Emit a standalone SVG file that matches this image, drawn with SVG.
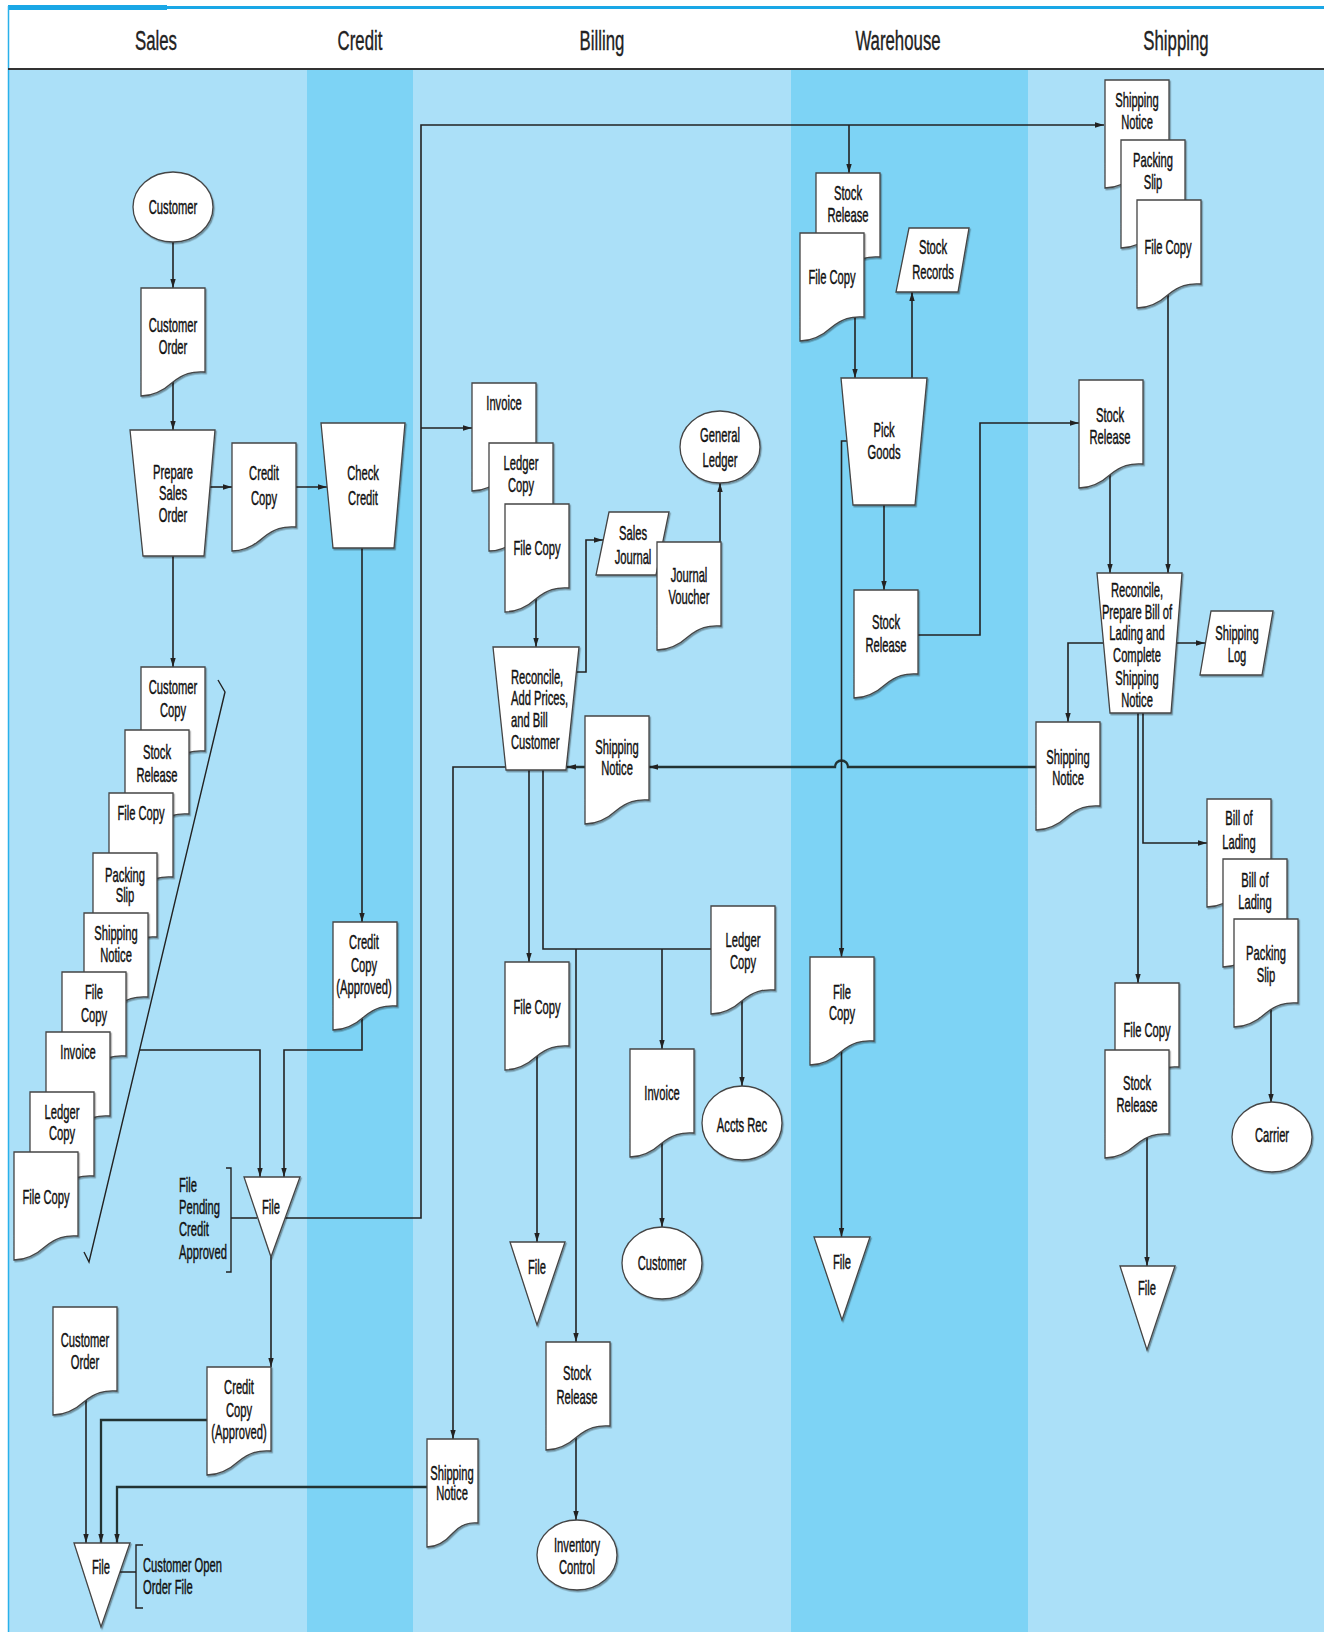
<svg xmlns="http://www.w3.org/2000/svg" width="1324" height="1632" viewBox="0 0 1324 1632">
<defs>
<style>
.s{fill:#fff;stroke:#444;stroke-width:1.3;filter:url(#sh)}
.t{font-family:"Liberation Sans",Arial,sans-serif;font-size:20px;text-anchor:middle;fill:#111;stroke:#111;stroke-width:0.45}
.l{text-anchor:start}
.h{font-family:"Liberation Sans",Arial,sans-serif;font-size:28px;text-anchor:middle;fill:#222;stroke:#222;stroke-width:0.4}
.c{fill:none;stroke:#222;stroke-width:1.6}
.ca{fill:none;stroke:#222;stroke-width:1.6;marker-end:url(#a)}
.cw{fill:none;stroke:#233;stroke-width:2.3;marker-end:url(#a)}
.b{fill:none;stroke:#222;stroke-width:1.4}
</style>
<filter id="sh" x="-10%" y="-10%" width="130%" height="130%"><feDropShadow dx="1.2" dy="1.5" stdDeviation="0.7" flood-color="#000" flood-opacity="0.35"/></filter>
<marker id="a" viewBox="0 0 10 6" refX="10" refY="3" markerWidth="9" markerHeight="6" markerUnits="userSpaceOnUse" orient="auto"><path d="M0,0L10,3L0,6z" fill="#222"/></marker>
</defs>
<rect width="1324" height="1632" fill="#fff"/>
<g id="lanes">
<rect x="8" y="70" width="299" height="1562" fill="#abe0f8"/>
<rect x="307" y="70" width="106" height="1562" fill="#7dd3f5"/>
<rect x="413" y="70" width="378" height="1562" fill="#abe0f8"/>
<rect x="791" y="70" width="237" height="1562" fill="#7dd3f5"/>
<rect x="1028" y="70" width="296" height="1562" fill="#abe0f8"/>
<rect x="8" y="6" width="1316" height="3" fill="#1aa7e6"/>
<rect x="8" y="5" width="159" height="5" fill="#1aa7e6"/>
<line x1="8.5" y1="6" x2="8.5" y2="1632" stroke="#2ab1ea" stroke-width="1.5"/>
<line x1="8" y1="69" x2="1324" y2="69" stroke="#333" stroke-width="2"/>
<text class="h" transform="translate(156 0) scale(.6 1)"><tspan x="0" y="50">Sales</tspan></text>
<text class="h" transform="translate(360 0) scale(.6 1)"><tspan x="0" y="50">Credit</tspan></text>
<text class="h" transform="translate(602 0) scale(.6 1)"><tspan x="0" y="50">Billing</tspan></text>
<text class="h" transform="translate(898 0) scale(.6 1)"><tspan x="0" y="50">Warehouse</tspan></text>
<text class="h" transform="translate(1176 0) scale(.6 1)"><tspan x="0" y="50">Shipping</tspan></text>
</g>
<g id="connectors">
<path class="ca" d="M173,230V288"/>
<path class="ca" d="M173,380V430"/>
<path class="ca" d="M205,487H232"/>
<path class="ca" d="M290,487H327"/>
<path class="ca" d="M173,540V667"/>
<path class="ca" d="M362,530V922"/>
<path class="ca" d="M362,1000V1050H284V1177"/>
<path class="ca" d="M139,1050H260V1177"/>
<path class="ca" d="M271,1218H421V125H1104"/>
<path class="ca" d="M849,125V173"/>
<path class="ca" d="M421,428H472"/>
<path class="ca" d="M536,590V647"/>
<path class="ca" d="M570,672H586V540H603"/>
<path class="ca" d="M720,560V483"/>
<path class="cw" d="M1050,767H848A6.5,6.5 0 0 0 835,767H649"/>
<path class="cw" d="M600,767H567"/>
<path class="ca" d="M530,767H453V1439"/>
<path class="ca" d="M529,760V962"/>
<path class="c" d="M543,760V949H720"/>
<path class="ca" d="M576,949V1342"/>
<path class="ca" d="M662,949V1049"/>
<path class="ca" d="M742,990V1086"/>
<path class="ca" d="M662,1140V1227"/>
<path class="ca" d="M537,1050V1242"/>
<path class="ca" d="M576,1430V1520"/>
<path class="ca" d="M271,1240V1367"/>
<path class="cw" d="M230,1420H101V1543"/>
<path class="ca" d="M86,1390V1543"/>
<path class="cw" d="M440,1487H117V1543"/>
<path class="ca" d="M855,300V378"/>
<path class="ca" d="M912,400V292"/>
<path class="ca" d="M884,490V590"/>
<path class="ca" d="M900,635H980V423H1079"/>
<path class="ca" d="M860,441H841.5V957"/>
<path class="ca" d="M841.5,1040V1237"/>
<path class="ca" d="M1168,280V573"/>
<path class="ca" d="M1110,470V573"/>
<path class="ca" d="M1170,643H1205"/>
<path class="ca" d="M1110,643H1068V722"/>
<path class="ca" d="M1138,700V983"/>
<path class="ca" d="M1143,700V843H1207"/>
<path class="ca" d="M1271,1000V1103"/>
<path class="ca" d="M1147,1130V1266"/>
<path class="b" d="M218,680L225,692L89,1262L84,1252"/>
</g>
<!-- Sales -->
<g id="customer"><ellipse class="s" cx="173" cy="207" rx="40" ry="35"/><text class="t" transform="translate(173 0) scale(.56 1)"><tspan x="0" y="214">Customer</tspan></text></g>
<g id="customer-order"><path class="s" d="M141,288h64v84c-13,-1-22,2-32,10c-10,9-20,14-32,14z"/><text class="t" transform="translate(173 0) scale(.56 1)"><tspan x="0" y="332">Customer</tspan><tspan x="0" y="354">Order</tspan></text></g>
<g id="prepare-sales-order"><polygon class="s" points="130,430 215,430 204,556 143,556"/><text class="t" transform="translate(173 0) scale(.56 1)"><tspan x="0" y="479">Prepare</tspan><tspan x="0" y="500">Sales</tspan><tspan x="0" y="522">Order</tspan></text></g>
<g id="credit-copy"><path class="s" d="M232,443h64v84c-13,-1-22,2-32,10c-10,9-20,14-32,14z"/><text class="t" transform="translate(264 0) scale(.56 1)"><tspan x="0" y="480">Credit</tspan><tspan x="0" y="505">Copy</tspan></text></g>
<g id="s-customer-copy"><path class="s" d="M141,667h64v84c-13,-1-22,2-32,10c-10,9-20,14-32,14z"/><text class="t" transform="translate(173 0) scale(.56 1)"><tspan x="0" y="694">Customer</tspan><tspan x="0" y="717">Copy</tspan></text></g>
<g id="s-stock-release"><path class="s" d="M125,730h64v84c-13,-1-22,2-32,10c-10,9-20,14-32,14z"/><text class="t" transform="translate(157 0) scale(.56 1)"><tspan x="0" y="759">Stock</tspan><tspan x="0" y="782">Release</tspan></text></g>
<g id="s-file-copy-1"><path class="s" d="M109,793h64v84c-13,-1-22,2-32,10c-10,9-20,14-32,14z"/><text class="t" transform="translate(141 0) scale(.56 1)"><tspan x="0" y="820">File Copy</tspan></text></g>
<g id="s-packing-slip"><path class="s" d="M93,853h64v84c-13,-1-22,2-32,10c-10,9-20,14-32,14z"/><text class="t" transform="translate(125 0) scale(.56 1)"><tspan x="0" y="882">Packing</tspan><tspan x="0" y="902">Slip</tspan></text></g>
<g id="s-shipping-notice"><path class="s" d="M84,913h64v84c-13,-1-22,2-32,10c-10,9-20,14-32,14z"/><text class="t" transform="translate(116 0) scale(.56 1)"><tspan x="0" y="940">Shipping</tspan><tspan x="0" y="962">Notice</tspan></text></g>
<g id="s-file-copy-2"><path class="s" d="M62,972h64v84c-13,-1-22,2-32,10c-10,9-20,14-32,14z"/><text class="t" transform="translate(94 0) scale(.56 1)"><tspan x="0" y="999">File</tspan><tspan x="0" y="1022">Copy</tspan></text></g>
<g id="s-invoice"><path class="s" d="M46,1032h64v84c-13,-1-22,2-32,10c-10,9-20,14-32,14z"/><text class="t" transform="translate(78 0) scale(.56 1)"><tspan x="0" y="1059">Invoice</tspan></text></g>
<g id="s-ledger-copy"><path class="s" d="M30,1092h64v84c-13,-1-22,2-32,10c-10,9-20,14-32,14z"/><text class="t" transform="translate(62 0) scale(.56 1)"><tspan x="0" y="1119">Ledger</tspan><tspan x="0" y="1140">Copy</tspan></text></g>
<g id="s-file-copy-3"><path class="s" d="M14,1152h64v84c-13,-1-22,2-32,10c-10,9-20,14-32,14z"/><text class="t" transform="translate(46 0) scale(.56 1)"><tspan x="0" y="1204">File Copy</tspan></text></g>
<g id="file-pending"><polygon class="s" points="244,1177 300,1177 271,1257"/><text class="t" transform="translate(271 0) scale(.56 1)"><tspan x="0" y="1214">File</tspan></text></g>
<g id="label-pending"><path class="b" d="M226,1168H231V1272H226M231,1218H257"/><text class="t l" transform="translate(179 0) scale(.56 1)"><tspan x="0" y="1192">File</tspan><tspan x="0" y="1214">Pending</tspan><tspan x="0" y="1236">Credit</tspan><tspan x="0" y="1259">Approved</tspan></text></g>
<g id="customer-order-2"><path class="s" d="M53,1307h64v84c-13,-1-22,2-32,10c-10,9-20,14-32,14z"/><text class="t" transform="translate(85 0) scale(.56 1)"><tspan x="0" y="1347">Customer</tspan><tspan x="0" y="1369">Order</tspan></text></g>
<g id="credit-copy-approved-2"><path class="s" d="M207,1367h64v84c-13,-1-22,2-32,10c-10,9-20,14-32,14z"/><text class="t" transform="translate(239 0) scale(.56 1)"><tspan x="0" y="1394">Credit</tspan><tspan x="0" y="1417">Copy</tspan><tspan x="0" y="1439">(Approved)</tspan></text></g>
<g id="file-open-order"><polygon class="s" points="74,1543 130,1543 101,1627"/><text class="t" transform="translate(101 0) scale(.56 1)"><tspan x="0" y="1574">File</tspan></text></g>
<g id="label-open-order"><path class="b" d="M143,1545H136V1608H143M120,1572H136"/><text class="t l" transform="translate(143 0) scale(.56 1)"><tspan x="0" y="1572">Customer Open</tspan><tspan x="0" y="1594">Order File</tspan></text></g>
<!-- Credit -->
<g id="check-credit"><polygon class="s" points="321,423 405,423 394,548 333,548"/><text class="t" transform="translate(363 0) scale(.56 1)"><tspan x="0" y="480">Check</tspan><tspan x="0" y="505">Credit</tspan></text></g>
<g id="credit-copy-approved"><path class="s" d="M333,922h64v84c-13,-1-22,2-32,10c-10,9-20,14-32,14z"/><text class="t" transform="translate(364 0) scale(.56 1)"><tspan x="0" y="949">Credit</tspan><tspan x="0" y="972">Copy</tspan><tspan x="0" y="994">(Approved)</tspan></text></g>
<!-- Billing -->
<g id="b-invoice"><path class="s" d="M472,383h64v84c-13,-1-22,2-32,10c-10,9-20,14-32,14z"/><text class="t" transform="translate(504 0) scale(.56 1)"><tspan x="0" y="410">Invoice</tspan></text></g>
<g id="b-ledger-copy"><path class="s" d="M489,443h64v84c-13,-1-22,2-32,10c-10,9-20,14-32,14z"/><text class="t" transform="translate(521 0) scale(.56 1)"><tspan x="0" y="470">Ledger</tspan><tspan x="0" y="492">Copy</tspan></text></g>
<g id="b-file-copy"><path class="s" d="M505,504h64v84c-13,-1-22,2-32,10c-10,9-20,14-32,14z"/><text class="t" transform="translate(537 0) scale(.56 1)"><tspan x="0" y="555">File Copy</tspan></text></g>
<g id="general-ledger"><ellipse class="s" cx="720" cy="447" rx="40" ry="36"/><text class="t" transform="translate(720 0) scale(.56 1)"><tspan x="0" y="442">General</tspan><tspan x="0" y="467">Ledger</tspan></text></g>
<g id="sales-journal"><polygon class="s" points="609,512 669,512 656,575 596,575"/><text class="t" transform="translate(633 0) scale(.56 1)"><tspan x="0" y="540">Sales</tspan><tspan x="0" y="564">Journal</tspan></text></g>
<g id="journal-voucher"><path class="s" d="M657,542h64v84c-13,-1-22,2-32,10c-10,9-20,14-32,14z"/><text class="t" transform="translate(689 0) scale(.56 1)"><tspan x="0" y="582">Journal</tspan><tspan x="0" y="604">Voucher</tspan></text></g>
<g id="reconcile-bill"><polygon class="s" points="493,647 579,647 566,770 506,770"/><text class="t l" transform="translate(511 0) scale(.56 1)"><tspan x="0" y="684">Reconcile,</tspan><tspan x="0" y="705">Add Prices,</tspan><tspan x="0" y="727">and Bill</tspan><tspan x="0" y="749">Customer</tspan></text></g>
<g id="b-shipping-notice"><path class="s" d="M585,716h64v84c-13,-1-22,2-32,10c-10,9-20,14-32,14z"/><text class="t" transform="translate(617 0) scale(.56 1)"><tspan x="0" y="754">Shipping</tspan><tspan x="0" y="775">Notice</tspan></text></g>
<g id="b-file-copy-2"><path class="s" d="M505,962h64v84c-13,-1-22,2-32,10c-10,9-20,14-32,14z"/><text class="t" transform="translate(537 0) scale(.56 1)"><tspan x="0" y="1014">File Copy</tspan></text></g>
<g id="b-ledger-copy-2"><path class="s" d="M711,906h64v84c-13,-1-22,2-32,10c-10,9-20,14-32,14z"/><text class="t" transform="translate(743 0) scale(.56 1)"><tspan x="0" y="947">Ledger</tspan><tspan x="0" y="969">Copy</tspan></text></g>
<g id="b-invoice-2"><path class="s" d="M630,1049h64v84c-13,-1-22,2-32,10c-10,9-20,14-32,14z"/><text class="t" transform="translate(662 0) scale(.56 1)"><tspan x="0" y="1100">Invoice</tspan></text></g>
<g id="accts-rec"><ellipse class="s" cx="742" cy="1123" rx="40" ry="37"/><text class="t" transform="translate(742 0) scale(.56 1)"><tspan x="0" y="1132">Accts Rec</tspan></text></g>
<g id="b-customer"><ellipse class="s" cx="662" cy="1263" rx="40" ry="36"/><text class="t" transform="translate(662 0) scale(.56 1)"><tspan x="0" y="1270">Customer</tspan></text></g>
<g id="b-file"><polygon class="s" points="510,1242 565,1242 537,1325"/><text class="t" transform="translate(537 0) scale(.56 1)"><tspan x="0" y="1274">File</tspan></text></g>
<g id="b-stock-release"><path class="s" d="M546,1342h64v84c-13,-1-22,2-32,10c-10,9-20,14-32,14z"/><text class="t" transform="translate(577 0) scale(.56 1)"><tspan x="0" y="1380">Stock</tspan><tspan x="0" y="1404">Release</tspan></text></g>
<g id="inventory-control"><ellipse class="s" cx="577" cy="1555" rx="40" ry="35"/><text class="t" transform="translate(577 0) scale(.56 1)"><tspan x="0" y="1552">Inventory</tspan><tspan x="0" y="1574">Control</tspan></text></g>
<g id="b-shipping-notice-2"><path class="s" d="M427,1439h51v84c-10,-1-18,2-25,10c-8,9-16,14-26,14z"/><text class="t" transform="translate(452 0) scale(.56 1)"><tspan x="0" y="1480">Shipping</tspan><tspan x="0" y="1500">Notice</tspan></text></g>
<!-- Warehouse -->
<g id="w-stock-release"><path class="s" d="M816,173h64v84c-13,-1-22,2-32,10c-10,9-20,14-32,14z"/><text class="t" transform="translate(848 0) scale(.56 1)"><tspan x="0" y="200">Stock</tspan><tspan x="0" y="222">Release</tspan></text></g>
<g id="w-file-copy"><path class="s" d="M800,233h64v84c-13,-1-22,2-32,10c-10,9-20,14-32,14z"/><text class="t" transform="translate(832 0) scale(.56 1)"><tspan x="0" y="284">File Copy</tspan></text></g>
<g id="stock-records"><polygon class="s" points="909,228 969,228 958,292 896,292"/><text class="t" transform="translate(933 0) scale(.56 1)"><tspan x="0" y="254">Stock</tspan><tspan x="0" y="279">Records</tspan></text></g>
<g id="pick-goods"><polygon class="s" points="841,378 927,378 915,505 853,505"/><text class="t" transform="translate(884 0) scale(.56 1)"><tspan x="0" y="437">Pick</tspan><tspan x="0" y="459">Goods</tspan></text></g>
<g id="w-stock-release-2"><path class="s" d="M854,590h64v84c-13,-1-22,2-32,10c-10,9-20,14-32,14z"/><text class="t" transform="translate(886 0) scale(.56 1)"><tspan x="0" y="629">Stock</tspan><tspan x="0" y="652">Release</tspan></text></g>
<g id="w-file-copy-2"><path class="s" d="M810,957h64v84c-13,-1-22,2-32,10c-10,9-20,14-32,14z"/><text class="t" transform="translate(842 0) scale(.56 1)"><tspan x="0" y="999">File</tspan><tspan x="0" y="1020">Copy</tspan></text></g>
<g id="w-file"><polygon class="s" points="814,1237 870,1237 842,1320"/><text class="t" transform="translate(842 0) scale(.56 1)"><tspan x="0" y="1269">File</tspan></text></g>
<!-- Shipping -->
<g id="sh-shipping-notice"><path class="s" d="M1105,80h64v84c-13,-1-22,2-32,10c-10,9-20,14-32,14z"/><text class="t" transform="translate(1137 0) scale(.56 1)"><tspan x="0" y="107">Shipping</tspan><tspan x="0" y="129">Notice</tspan></text></g>
<g id="sh-packing-slip"><path class="s" d="M1121,140h64v84c-13,-1-22,2-32,10c-10,9-20,14-32,14z"/><text class="t" transform="translate(1153 0) scale(.56 1)"><tspan x="0" y="167">Packing</tspan><tspan x="0" y="189">Slip</tspan></text></g>
<g id="sh-file-copy"><path class="s" d="M1137,200h64v84c-13,-1-22,2-32,10c-10,9-20,14-32,14z"/><text class="t" transform="translate(1168 0) scale(.56 1)"><tspan x="0" y="254">File Copy</tspan></text></g>
<g id="sh-stock-release"><path class="s" d="M1079,380h64v84c-13,-1-22,2-32,10c-10,9-20,14-32,14z"/><text class="t" transform="translate(1110 0) scale(.56 1)"><tspan x="0" y="422">Stock</tspan><tspan x="0" y="444">Release</tspan></text></g>
<g id="reconcile-ship"><polygon class="s" points="1097,573 1182,573 1171,713 1110,713"/><text class="t" transform="translate(1137 0) scale(.56 1)"><tspan x="0" y="597">Reconcile,</tspan><tspan x="0" y="619">Prepare Bill of</tspan><tspan x="0" y="640">Lading and</tspan><tspan x="0" y="662">Complete</tspan><tspan x="0" y="685">Shipping</tspan><tspan x="0" y="707">Notice</tspan></text></g>
<g id="shipping-log"><polygon class="s" points="1211,611 1273,611 1262,675 1200,675"/><text class="t" transform="translate(1237 0) scale(.56 1)"><tspan x="0" y="640">Shipping</tspan><tspan x="0" y="662">Log</tspan></text></g>
<g id="sh-shipping-notice-2"><path class="s" d="M1036,722h64v84c-13,-1-22,2-32,10c-10,9-20,14-32,14z"/><text class="t" transform="translate(1068 0) scale(.56 1)"><tspan x="0" y="764">Shipping</tspan><tspan x="0" y="785">Notice</tspan></text></g>
<g id="sh-bill-of-lading-1"><path class="s" d="M1207,799h64v84c-13,-1-22,2-32,10c-10,9-20,14-32,14z"/><text class="t" transform="translate(1239 0) scale(.56 1)"><tspan x="0" y="825">Bill of</tspan><tspan x="0" y="849">Lading</tspan></text></g>
<g id="sh-bill-of-lading-2"><path class="s" d="M1223,859h64v84c-13,-1-22,2-32,10c-10,9-20,14-32,14z"/><text class="t" transform="translate(1255 0) scale(.56 1)"><tspan x="0" y="887">Bill of</tspan><tspan x="0" y="909">Lading</tspan></text></g>
<g id="sh-packing-slip-2"><path class="s" d="M1234,919h64v84c-13,-1-22,2-32,10c-10,9-20,14-32,14z"/><text class="t" transform="translate(1266 0) scale(.56 1)"><tspan x="0" y="960">Packing</tspan><tspan x="0" y="982">Slip</tspan></text></g>
<g id="carrier"><ellipse class="s" cx="1272" cy="1137" rx="40" ry="35"/><text class="t" transform="translate(1272 0) scale(.56 1)"><tspan x="0" y="1142">Carrier</tspan></text></g>
<g id="sh-file-copy-2"><path class="s" d="M1115,983h64v84c-13,-1-22,2-32,10c-10,9-20,14-32,14z"/><text class="t" transform="translate(1147 0) scale(.56 1)"><tspan x="0" y="1037">File Copy</tspan></text></g>
<g id="sh-stock-release-2"><path class="s" d="M1105,1050h64v84c-13,-1-22,2-32,10c-10,9-20,14-32,14z"/><text class="t" transform="translate(1137 0) scale(.56 1)"><tspan x="0" y="1090">Stock</tspan><tspan x="0" y="1112">Release</tspan></text></g>
<g id="sh-file"><polygon class="s" points="1120,1266 1175,1266 1147,1350"/><text class="t" transform="translate(1147 0) scale(.56 1)"><tspan x="0" y="1295">File</tspan></text></g>
</svg>
